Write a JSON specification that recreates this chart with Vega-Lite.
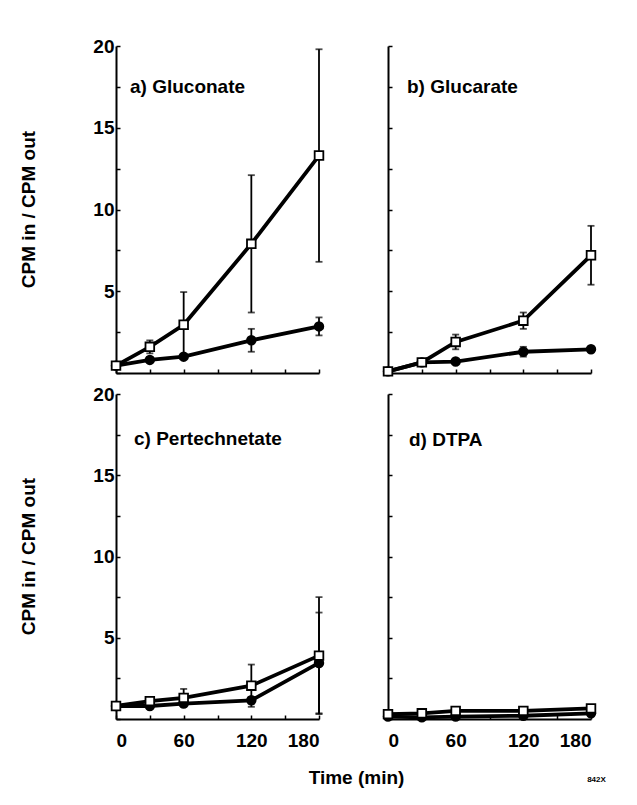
{
  "$schema": "https://vega.github.io/schema/vega-lite/v6.json",
  "padding": {"left": 19, "top": 37, "right": 5, "bottom": 5},
  "background": "white",
  "datasets": {
    "pts": [
      {"panel": "a", "series": "filled", "t": 0, "v": 0.45, "err": 0},
      {"panel": "a", "series": "filled", "t": 30, "v": 0.8, "err": 0.15},
      {"panel": "a", "series": "filled", "t": 60, "v": 1.0, "err": 0},
      {"panel": "a", "series": "filled", "t": 120, "v": 2.0, "err": 0.7},
      {"panel": "a", "series": "filled", "t": 180, "v": 2.85, "err": 0.55},
      {"panel": "a", "series": "open", "t": 0, "v": 0.45, "err": 0},
      {"panel": "a", "series": "open", "t": 30, "v": 1.6, "err": 0.4},
      {"panel": "a", "series": "open", "t": 60, "v": 2.95, "err": 2.0},
      {"panel": "a", "series": "open", "t": 120, "v": 7.9, "err": 4.2},
      {"panel": "a", "series": "open", "t": 180, "v": 13.3, "err": 6.5},
      {"panel": "b", "series": "filled", "t": 0, "v": 0.1, "err": 0},
      {"panel": "b", "series": "filled", "t": 30, "v": 0.65, "err": 0},
      {"panel": "b", "series": "filled", "t": 60, "v": 0.7, "err": 0},
      {"panel": "b", "series": "filled", "t": 120, "v": 1.3, "err": 0.3},
      {"panel": "b", "series": "filled", "t": 180, "v": 1.45, "err": 0},
      {"panel": "b", "series": "open", "t": 0, "v": 0.1, "err": 0},
      {"panel": "b", "series": "open", "t": 30, "v": 0.65, "err": 0},
      {"panel": "b", "series": "open", "t": 60, "v": 1.9, "err": 0.45},
      {"panel": "b", "series": "open", "t": 120, "v": 3.2, "err": 0.5},
      {"panel": "b", "series": "open", "t": 180, "v": 7.2, "err": 1.8},
      {"panel": "c", "series": "filled", "t": 0, "v": 0.8, "err": 0},
      {"panel": "c", "series": "filled", "t": 30, "v": 0.8, "err": 0},
      {"panel": "c", "series": "filled", "t": 60, "v": 0.95, "err": 0},
      {"panel": "c", "series": "filled", "t": 120, "v": 1.15, "err": 0.2},
      {"panel": "c", "series": "filled", "t": 180, "v": 3.45, "err": 3.1},
      {"panel": "c", "series": "open", "t": 0, "v": 0.8, "err": 0},
      {"panel": "c", "series": "open", "t": 30, "v": 1.1, "err": 0.15},
      {"panel": "c", "series": "open", "t": 60, "v": 1.3, "err": 0.55},
      {"panel": "c", "series": "open", "t": 120, "v": 2.05, "err": 1.3},
      {"panel": "c", "series": "open", "t": 180, "v": 3.9, "err": 3.6},
      {"panel": "d", "series": "filled", "t": 0, "v": 0.15, "err": 0},
      {"panel": "d", "series": "filled", "t": 30, "v": 0.1, "err": 0},
      {"panel": "d", "series": "filled", "t": 60, "v": 0.15, "err": 0},
      {"panel": "d", "series": "filled", "t": 120, "v": 0.2, "err": 0},
      {"panel": "d", "series": "filled", "t": 180, "v": 0.35, "err": 0},
      {"panel": "d", "series": "open", "t": 0, "v": 0.3, "err": 0},
      {"panel": "d", "series": "open", "t": 30, "v": 0.35, "err": 0},
      {"panel": "d", "series": "open", "t": 60, "v": 0.5, "err": 0},
      {"panel": "d", "series": "open", "t": 120, "v": 0.5, "err": 0},
      {"panel": "d", "series": "open", "t": 180, "v": 0.65, "err": 0.15}
    ]
  },
  "data": {"name": "pts"},
  "columns": 2,
  "bounds": "flush",
  "spacing": {"row": 21, "column": 69},
  "concat": [
    {
      "width": 203, "height": 327,
      "title": {"text": "a) Gluconate", "offset": -69, "baseline": "middle", "dx": 14, "frame": "group"},
      "transform": [{"filter": "datum.panel === 'a'"}],
      "encoding": {
        "x": {"field": "t", "type": "quantitative", "scale": {"domain": [0, 180], "nice": false},
              "axis": {"values": [0, 30, 60, 90, 120, 150, 180], "labels": false, "title": null}},
        "y": {"field": "v", "type": "quantitative", "scale": {"domain": [0, 20], "nice": false},
              "axis": {"values": [0, 2.5, 5, 7.5, 10, 12.5, 15, 17.5, 20],
                       "labelExpr": "datum.value % 5 === 0 && datum.value > 0 ? datum.label : ''",
                       "title": "CPM in / CPM out", "titleX": -88, "titleY": 163, "titleAngle": -90,
                       "titleAlign": "center", "titleBaseline": "middle"}}
      },
      "layer": [
        {"transform": [{"filter": "datum.err > 0"}],
         "mark": {"type": "errorbar", "ticks": true, "color": "black", "thickness": 1.8, "size": 7},
         "encoding": {"yError": {"field": "err"}}},
        {"mark": {"type": "line", "color": "black", "strokeWidth": 3.8},
         "encoding": {"detail": {"field": "series"}}},
        {"mark": {"type": "point", "filled": true, "size": 75, "stroke": "black", "strokeWidth": 1.8, "opacity": 1},
         "encoding": {
           "shape": {"field": "series", "scale": {"domain": ["filled", "open"], "range": ["circle", "square"]}, "legend": null},
           "fill": {"field": "series", "scale": {"domain": ["filled", "open"], "range": ["black", "white"]}, "legend": null}}}
      ]
    },
    {
      "width": 203, "height": 327,
      "title": {"text": "b) Glucarate", "offset": -61, "baseline": "middle", "dx": 19, "frame": "group"},
      "transform": [{"filter": "datum.panel === 'b'"}],
      "encoding": {
        "x": {"field": "t", "type": "quantitative", "scale": {"domain": [0, 180], "nice": false},
              "axis": {"values": [0, 30, 60, 90, 120, 150, 180], "labels": false, "title": null}},
        "y": {"field": "v", "type": "quantitative", "scale": {"domain": [0, 20], "nice": false},
              "axis": {"values": [0, 2.5, 5, 7.5, 10, 12.5, 15, 17.5, 20], "labels": false, "title": null}}
      },
      "layer": [
        {"transform": [{"filter": "datum.err > 0"}],
         "mark": {"type": "errorbar", "ticks": true, "color": "black", "thickness": 1.8, "size": 7},
         "encoding": {"yError": {"field": "err"}}},
        {"mark": {"type": "line", "color": "black", "strokeWidth": 3.8},
         "encoding": {"detail": {"field": "series"}}},
        {"mark": {"type": "point", "filled": true, "size": 75, "stroke": "black", "strokeWidth": 1.8, "opacity": 1},
         "encoding": {
           "shape": {"field": "series", "scale": {"domain": ["filled", "open"], "range": ["circle", "square"]}, "legend": null},
           "fill": {"field": "series", "scale": {"domain": ["filled", "open"], "range": ["black", "white"]}, "legend": null}}}
      ]
    },
    {
      "width": 203, "height": 325,
      "title": {"text": "c) Pertechnetate", "offset": -73, "baseline": "middle", "dx": 18, "frame": "group"},
      "transform": [{"filter": "datum.panel === 'c'"}],
      "encoding": {
        "x": {"field": "t", "type": "quantitative", "scale": {"domain": [0, 180], "nice": false},
              "axis": {"values": [0, 30, 60, 90, 120, 150, 180], "labelPadding": 16,
                       "labelExpr": "datum.value % 60 === 0 ? datum.label : ''",
                       "title": "Time (min)", "titleX": 240, "titleY": 58, "titleAlign": "center", "titleBaseline": "middle"}},
        "y": {"field": "v", "type": "quantitative", "scale": {"domain": [0, 20], "nice": false},
              "axis": {"values": [0, 2.5, 5, 7.5, 10, 12.5, 15, 17.5, 20],
                       "labelExpr": "datum.value % 5 === 0 && datum.value > 0 ? datum.label : ''",
                       "title": "CPM in / CPM out", "titleX": -88, "titleY": 162, "titleAngle": -90,
                       "titleAlign": "center", "titleBaseline": "middle"}}
      },
      "layer": [
        {"transform": [{"filter": "datum.err > 0"}],
         "mark": {"type": "errorbar", "ticks": true, "color": "black", "thickness": 1.8, "size": 7},
         "encoding": {"yError": {"field": "err"}}},
        {"mark": {"type": "line", "color": "black", "strokeWidth": 3.8},
         "encoding": {"detail": {"field": "series"}}},
        {"mark": {"type": "point", "filled": true, "size": 75, "stroke": "black", "strokeWidth": 1.8, "opacity": 1},
         "encoding": {
           "shape": {"field": "series", "scale": {"domain": ["filled", "open"], "range": ["circle", "square"]}, "legend": null},
           "fill": {"field": "series", "scale": {"domain": ["filled", "open"], "range": ["black", "white"]}, "legend": null}}}
      ]
    },
    {
      "width": 203, "height": 325,
      "title": {"text": "d) DTPA", "offset": -66, "baseline": "middle", "dx": 21, "frame": "group"},
      "transform": [{"filter": "datum.panel === 'd'"}],
      "encoding": {
        "x": {"field": "t", "type": "quantitative", "scale": {"domain": [0, 180], "nice": false},
              "axis": {"values": [0, 30, 60, 90, 120, 150, 180], "labelPadding": 16,
                       "labelExpr": "datum.value % 60 === 0 ? datum.label : ''",
                       "title": "842X", "titleFontSize": 8, "titleX": 208, "titleY": 60, "titleAlign": "center", "titleBaseline": "middle"}},
        "y": {"field": "v", "type": "quantitative", "scale": {"domain": [0, 20], "nice": false},
              "axis": {"values": [0, 2.5, 5, 7.5, 10, 12.5, 15, 17.5, 20], "labels": false, "title": null}}
      },
      "layer": [
        {"transform": [{"filter": "datum.err > 0"}],
         "mark": {"type": "errorbar", "ticks": true, "color": "black", "thickness": 1.8, "size": 7},
         "encoding": {"yError": {"field": "err"}}},
        {"mark": {"type": "line", "color": "black", "strokeWidth": 3.8},
         "encoding": {"detail": {"field": "series"}}},
        {"mark": {"type": "point", "filled": true, "size": 75, "stroke": "black", "strokeWidth": 1.8, "opacity": 1},
         "encoding": {
           "shape": {"field": "series", "scale": {"domain": ["filled", "open"], "range": ["circle", "square"]}, "legend": null},
           "fill": {"field": "series", "scale": {"domain": ["filled", "open"], "range": ["black", "white"]}, "legend": null}}}
      ]
    }
  ],
  "config": {
    "view": {"stroke": null},
    "font": "Liberation Sans",
    "axis": {
      "domainColor": "black", "domainWidth": 2, "tickColor": "black", "tickWidth": 1.5, "tickSize": -4,
      "grid": false, "labelFont": "Liberation Sans", "labelFontSize": 19, "labelFontWeight": "bold",
      "labelColor": "black", "labelPadding": 6, "titleFont": "Liberation Sans", "titleFontSize": 19,
      "titleFontWeight": "bold", "titleColor": "black"
    },
    "title": {"font": "Liberation Sans", "fontSize": 19, "fontWeight": "bold", "color": "black", "anchor": "start"}
  }
}
